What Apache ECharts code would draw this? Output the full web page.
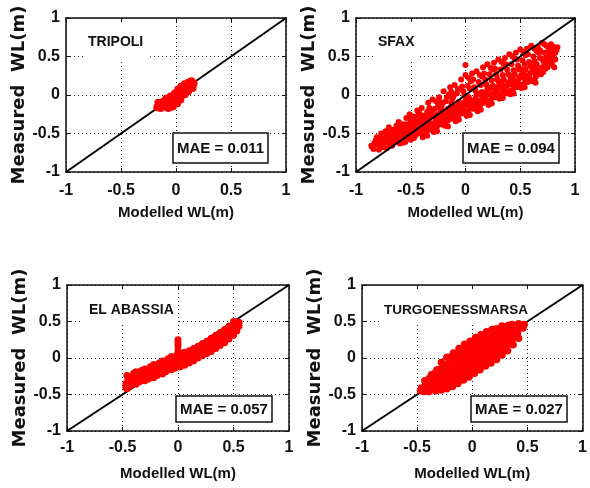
<!DOCTYPE html>
<html><head><meta charset="utf-8">
<script src="https://cdn.jsdelivr.net/npm/echarts@6/dist/echarts.min.js"></script>
<style>html,body{margin:0;padding:0;background:#fff}#c{width:590px;height:488px}</style>
</head><body><div id="c"></div>
<script>
// ---------------- data ----------------
const stations = ['TRIPOLI', 'SFAX', 'EL ABASSIA', 'TURGOENESSMARSA'];
const maeValues = ['0.011', '0.094', '0.057', '0.027'];
const tickLabels = ['-1', '-0.5', '0', '0.5', '1'];
const axisTitleX = 'Modelled WL(m)';
const axisTitleY = 'Measured  WL(m)';
const diagLine = [[-1, -1], [1, 1]];

const tripoliPts = [
  [-0.17,-0.16],[-0.15,-0.12],[-0.14,-0.17],[-0.12,-0.09],[-0.11,-0.15],[-0.09,-0.05],[-0.08,-0.12],[-0.07,-0.17],
  [-0.05,-0.02],[-0.04,-0.09],[-0.03,-0.15],[-0.01,0.02],[0.00,-0.05],[0.01,-0.11],[0.02,0.07],[0.03,0.00],
  [0.04,-0.06],[0.05,0.11],[0.06,0.04],[0.08,0.14],[0.08,0.01],[0.09,0.08],[0.11,0.16],[0.11,0.05],
  [0.13,0.12],[0.14,0.18],[0.15,0.09],[0.16,0.15],[-0.16,-0.10],[-0.10,-0.12],[-0.02,-0.03],[0.06,0.09]
];

const sfaxPts = [
  [-0.86,-0.66],[-0.84,-0.70],[-0.83,-0.62],[-0.85,-0.68],
  [-0.81,-0.55],[-0.79,-0.71],[-0.78,-0.60],[-0.80,-0.65],[-0.77,-0.50],[-0.76,-0.68],[-0.78,-0.56],
  [-0.74,-0.62],[-0.73,-0.47],[-0.72,-0.69],[-0.71,-0.55],[-0.70,-0.42],[-0.69,-0.64],[-0.68,-0.51],[-0.67,-0.58],[-0.66,-0.45],[-0.72,-0.53],
  [-0.64,-0.60],[-0.63,-0.40],[-0.62,-0.52],[-0.61,-0.35],[-0.60,-0.63],[-0.59,-0.46],[-0.58,-0.56],[-0.57,-0.38],[-0.56,-0.50],[-0.55,-0.61],[-0.62,-0.44],
  [-0.54,-0.30],[-0.53,-0.55],[-0.52,-0.42],[-0.51,-0.25],[-0.50,-0.58],[-0.49,-0.36],[-0.48,-0.48],[-0.47,-0.28],[-0.46,-0.53],[-0.45,-0.40],[-0.50,-0.33],[-0.53,-0.46],
  [-0.44,-0.20],[-0.43,-0.50],[-0.42,-0.33],[-0.41,-0.44],[-0.40,-0.17],[-0.39,-0.55],[-0.38,-0.27],[-0.37,-0.39],[-0.36,-0.48],[-0.35,-0.22],[-0.41,-0.29],[-0.38,-0.52],[-0.36,-0.34],
  [-0.34,-0.10],[-0.33,-0.45],[-0.32,-0.26],[-0.31,-0.37],[-0.30,-0.06],[-0.29,-0.48],[-0.28,-0.18],[-0.27,-0.31],[-0.26,-0.41],[-0.25,-0.12],[-0.31,-0.21],[-0.28,-0.44],[-0.26,-0.25],
  [-0.24,-0.03],[-0.23,-0.38],[-0.22,-0.15],[-0.21,-0.27],[-0.20,0.05],[-0.19,-0.40],[-0.18,-0.08],[-0.17,-0.22],[-0.16,-0.33],[-0.15,0.01],[-0.21,-0.11],[-0.18,-0.35],[-0.16,-0.18],[-0.23,-0.24],
  [-0.14,0.10],[-0.13,-0.31],[-0.12,-0.05],[-0.11,-0.18],[-0.10,0.13],[-0.09,-0.34],[-0.08,0.02],[-0.07,-0.12],[-0.06,-0.25],[-0.05,0.08],[-0.11,-0.02],[-0.08,-0.28],[-0.06,-0.09],[-0.13,-0.15],
  [-0.04,0.20],[-0.03,-0.24],[-0.02,0.05],[-0.01,-0.10],[0.00,0.26],[0.01,-0.27],[0.02,0.12],[0.03,-0.03],[0.04,-0.18],[0.05,0.18],[-0.01,0.00],[0.02,-0.21],[0.04,0.08],[-0.03,-0.14],[0.00,0.39],
  [0.06,0.28],[0.07,-0.18],[0.08,0.10],[0.09,-0.05],[0.10,0.31],[0.11,-0.21],[0.12,0.17],[0.13,0.02],[0.14,-0.12],[0.15,0.24],[0.09,0.06],[0.12,-0.15],[0.14,0.13],[0.07,-0.09],
  [0.16,0.36],[0.17,-0.10],[0.18,0.20],[0.19,0.04],[0.20,0.40],[0.21,-0.13],[0.22,0.27],[0.23,0.09],[0.24,-0.04],[0.25,0.33],[0.19,0.14],[0.22,-0.07],[0.24,0.19],[0.17,0.00],
  [0.26,0.42],[0.27,-0.03],[0.28,0.27],[0.29,0.10],[0.30,0.46],[0.31,-0.05],[0.32,0.33],[0.33,0.16],[0.34,0.03],[0.35,0.40],[0.29,0.21],[0.32,0.01],[0.34,0.26],[0.27,0.08],
  [0.36,0.48],[0.37,0.02],[0.38,0.33],[0.39,0.16],[0.40,0.53],[0.41,0.01],[0.42,0.40],[0.43,0.22],[0.44,0.09],[0.45,0.47],[0.39,0.27],[0.42,0.06],[0.44,0.32],[0.37,0.12],
  [0.46,0.55],[0.47,0.10],[0.48,0.38],[0.49,0.22],[0.50,0.59],[0.51,0.09],[0.52,0.45],[0.53,0.29],[0.54,0.16],[0.55,0.52],[0.49,0.33],[0.52,0.13],[0.54,0.40],
  [0.56,0.60],[0.57,0.17],[0.58,0.43],[0.59,0.28],[0.60,0.64],[0.61,0.18],[0.62,0.50],[0.63,0.35],[0.64,0.23],[0.65,0.57],[0.59,0.38],[0.63,0.44],
  [0.66,0.62],[0.67,0.27],[0.68,0.48],[0.69,0.35],[0.70,0.68],[0.71,0.30],[0.72,0.55],[0.73,0.41],[0.74,0.64],[0.68,0.58],
  [0.75,0.36],[0.76,0.60],[0.77,0.45],[0.78,0.66],[0.79,0.40],[0.80,0.53],[0.81,0.62],[0.78,0.50],
  [0.83,0.58],[0.84,0.62],[0.82,0.46],
  [-0.82,-0.59],[-0.76,-0.62],
  [-0.73,-0.58],[-0.70,-0.49],[-0.67,-0.66],[-0.65,-0.52],
  [-0.64,-0.48],[-0.61,-0.57],[-0.59,-0.40],[-0.56,-0.44],[-0.57,-0.62],
  [-0.54,-0.38],[-0.52,-0.50],[-0.49,-0.44],[-0.47,-0.56],[-0.46,-0.33],[-0.51,-0.29],
  [-0.44,-0.38],[-0.43,-0.26],[-0.40,-0.47],[-0.38,-0.32],[-0.36,-0.41],[-0.35,-0.53],[-0.42,-0.24],
  [-0.34,-0.32],[-0.33,-0.17],[-0.31,-0.42],[-0.29,-0.28],[-0.27,-0.08],[-0.26,-0.47],[-0.25,-0.35],
  [-0.24,-0.31],[-0.23,-0.09],[-0.21,-0.36],[-0.19,-0.21],[-0.17,-0.03],[-0.16,-0.41],[-0.15,-0.27],
  [-0.14,-0.24],[-0.13,0.04],[-0.11,-0.28],[-0.09,-0.15],[-0.07,0.07],[-0.06,-0.32],[-0.05,-0.20],
  [-0.04,-0.20],[-0.03,0.11],[-0.01,-0.22],[0.01,-0.05],[0.03,0.22],[0.04,-0.26],[0.05,-0.12],
  [0.06,-0.13],[0.07,0.20],[0.09,-0.16],[0.11,0.01],[0.13,0.26],[0.14,-0.19],[0.15,-0.05],
  [0.16,-0.05],[0.17,0.28],[0.19,-0.09],[0.21,0.08],[0.23,0.35],[0.24,-0.11],[0.25,0.02],
  [0.26,0.02],[0.27,0.34],[0.29,-0.01],[0.31,0.13],[0.33,0.43],[0.34,-0.04],[0.35,0.09],
  [0.36,0.08],[0.37,0.40],[0.39,0.05],[0.41,0.19],[0.43,0.50],[0.44,0.02],[0.45,0.15],
  [0.46,0.16],[0.47,0.46],[0.49,0.12],[0.51,0.26],[0.53,0.56],[0.54,0.10],[0.55,0.21],
  [0.56,0.24],[0.57,0.53],[0.59,0.20],[0.61,0.32],[0.63,0.60],[0.64,0.16],[0.65,0.29],
  [0.66,0.32],[0.67,0.55],[0.69,0.27],[0.71,0.44],[0.72,0.66],[0.73,0.34],[0.74,0.52],
  [0.76,0.42],[0.77,0.56],[0.79,0.64],[0.80,0.46],[0.81,0.36],[0.82,0.55],
  [-0.75,-0.57],[-0.71,-0.61],
  [-0.65,-0.55],[-0.63,-0.47],[-0.60,-0.54],
  [-0.55,-0.47],[-0.53,-0.39],[-0.51,-0.51],[-0.48,-0.41],
  [-0.45,-0.45],[-0.43,-0.35],[-0.41,-0.38],[-0.39,-0.44],
  [-0.35,-0.30],[-0.33,-0.38],[-0.30,-0.27],[-0.28,-0.36],
  [-0.25,-0.28],[-0.23,-0.18],[-0.20,-0.31],[-0.18,-0.26],
  [-0.15,-0.21],[-0.13,-0.10],[-0.10,-0.24],[-0.08,-0.19],
  [-0.05,-0.14],[-0.02,-0.17],[0.00,-0.07],[0.02,-0.13],
  [0.05,-0.07],[0.08,-0.11],[0.10,0.00],[0.12,-0.08],
  [0.15,0.04],[0.18,-0.02],[0.20,0.10],[0.22,0.01],
  [0.25,0.12],[0.28,0.05],[0.30,0.18],[0.32,0.09],
  [0.35,0.20],[0.38,0.12],[0.40,0.26],[0.42,0.14],
  [0.45,0.27],[0.48,0.19],[0.50,0.34],[0.52,0.23],
  [0.55,0.33],[0.58,0.26],[0.60,0.41],[0.62,0.30],
  [0.65,0.40],[0.68,0.33],[0.70,0.47],[0.72,0.39],
  [0.75,0.47],[0.78,0.43],[0.80,0.58]
];

const abassiaPts = [
  [-0.46,-0.42],[-0.47,-0.35],[-0.45,-0.29],[-0.46,-0.24],
  [-0.43,-0.38],[-0.41,-0.32],[-0.42,-0.26],[-0.40,-0.21],
  [-0.38,-0.36],[-0.39,-0.29],[-0.37,-0.24],[-0.38,-0.19],
  [-0.35,-0.33],[-0.33,-0.28],[-0.34,-0.22],[-0.33,-0.17],
  [-0.30,-0.31],[-0.31,-0.25],[-0.29,-0.20],[-0.30,-0.15],
  [-0.27,-0.29],[-0.25,-0.23],[-0.26,-0.17],[-0.25,-0.12],
  [-0.22,-0.27],[-0.23,-0.21],[-0.21,-0.15],[-0.22,-0.09],
  [-0.19,-0.24],[-0.17,-0.19],[-0.18,-0.12],[-0.17,-0.07],
  [-0.14,-0.22],[-0.15,-0.16],[-0.13,-0.10],[-0.14,-0.04],
  [-0.11,-0.19],[-0.09,-0.13],[-0.10,-0.07],[-0.09,-0.01],
  [-0.06,-0.16],[-0.07,-0.10],[-0.05,-0.04],[-0.06,0.02],
  [-0.03,-0.14],[-0.01,-0.08],[-0.02,-0.02],[-0.01,0.04],
  [0.02,-0.12],[0.01,-0.06],[0.03,0.00],[0.02,0.06],
  [0.06,-0.10],[0.07,-0.04],[0.05,0.02],[0.06,0.08],
  [0.10,-0.07],[0.09,-0.01],[0.11,0.05],[0.10,0.10],
  [0.14,-0.04],[0.15,0.02],[0.13,0.08],[0.14,0.13],
  [0.18,0.00],[0.17,0.06],[0.19,0.11],[0.18,0.16],
  [0.22,0.03],[0.23,0.09],[0.21,0.15],[0.22,0.20],
  [0.26,0.06],[0.25,0.12],[0.27,0.18],[0.26,0.23],
  [0.30,0.09],[0.31,0.15],[0.29,0.21],[0.30,0.27],
  [0.34,0.13],[0.33,0.19],[0.35,0.25],[0.34,0.31],
  [0.38,0.17],[0.39,0.23],[0.37,0.29],[0.38,0.35],
  [0.42,0.21],[0.41,0.27],[0.43,0.33],[0.42,0.39],
  [0.46,0.26],[0.47,0.32],[0.45,0.38],[0.46,0.44],
  [0.50,0.31],[0.49,0.38],[0.51,0.44],[0.50,0.50],
  [0.53,0.37],[0.54,0.43],[0.53,0.49],
  [0.55,0.44],[0.55,0.49],
  [0.00,0.25],[0.00,0.21],[0.00,0.17],[0.00,0.11],[-0.47,-0.40]
];

const turgoPts = [
  [-0.47,-0.45],[-0.46,-0.41],
  [-0.44,-0.46],[-0.43,-0.40],[-0.42,-0.34],[-0.43,-0.31],
  [-0.39,-0.46],[-0.37,-0.40],[-0.38,-0.34],[-0.39,-0.28],[-0.37,-0.23],
  [-0.33,-0.45],[-0.34,-0.39],[-0.32,-0.33],[-0.33,-0.27],[-0.34,-0.21],[-0.32,-0.16],
  [-0.28,-0.44],[-0.29,-0.38],[-0.27,-0.31],[-0.28,-0.25],[-0.29,-0.18],[-0.27,-0.12],[-0.28,-0.06],
  [-0.23,-0.42],[-0.24,-0.35],[-0.22,-0.29],[-0.23,-0.22],[-0.24,-0.15],[-0.22,-0.08],[-0.23,0.01],
  [-0.18,-0.39],[-0.19,-0.32],[-0.17,-0.25],[-0.18,-0.18],[-0.19,-0.11],[-0.17,-0.04],[-0.18,0.03],[-0.17,0.07],
  [-0.13,-0.35],[-0.14,-0.28],[-0.12,-0.21],[-0.13,-0.14],[-0.14,-0.07],[-0.12,0.00],[-0.13,0.07],[-0.12,0.13],
  [-0.08,-0.30],[-0.09,-0.23],[-0.07,-0.16],[-0.08,-0.09],[-0.09,-0.02],[-0.07,0.05],[-0.08,0.12],[-0.07,0.19],
  [-0.03,-0.26],[-0.04,-0.19],[-0.02,-0.12],[-0.03,-0.05],[-0.04,0.02],[-0.02,0.09],[-0.03,0.16],[-0.02,0.23],
  [0.02,-0.21],[0.01,-0.14],[0.03,-0.07],[0.02,0.00],[0.01,0.07],[0.03,0.14],[0.02,0.21],[0.03,0.28],
  [0.07,-0.16],[0.06,-0.09],[0.08,-0.02],[0.07,0.05],[0.06,0.12],[0.08,0.19],[0.07,0.26],[0.08,0.32],
  [0.12,-0.11],[0.11,-0.04],[0.13,0.03],[0.12,0.10],[0.11,0.17],[0.13,0.24],[0.12,0.30],[0.13,0.36],
  [0.17,-0.07],[0.16,0.00],[0.18,0.07],[0.17,0.14],[0.16,0.21],[0.18,0.28],[0.17,0.34],[0.18,0.39],
  [0.22,-0.02],[0.21,0.05],[0.23,0.12],[0.22,0.19],[0.21,0.26],[0.23,0.33],[0.22,0.40],
  [0.27,0.04],[0.26,0.11],[0.28,0.18],[0.27,0.25],[0.26,0.32],[0.28,0.38],[0.27,0.44],
  [0.32,0.10],[0.31,0.17],[0.33,0.24],[0.32,0.31],[0.31,0.38],[0.33,0.45],
  [0.37,0.18],[0.36,0.25],[0.38,0.32],[0.37,0.39],[0.36,0.46],
  [0.42,0.27],[0.41,0.34],[0.43,0.41],[0.42,0.47],
  [0.46,0.41],[0.47,0.46]
];

// ---------------- layout / style ----------------
const panelPoints = [tripoliPts, sfaxPts, abassiaPts, turgoPts];
const pointSize = [8, 6, 7, 7.5];
const lineOnTop = [false, true, false, false];
const SANS = "'Liberation Sans',Arial,sans-serif";
const WIDE = "'DejaVu Sans',sans-serif";
const INK = '#111';

const panels = [
  {grid:{left:66, top:18, width:220, height:154}, xLabelMargin:11, xNameGap:33, yNameGap:38,
   label:{left:83, top:22, padding:[13,7,10,5], size:14},
   mae:{left:173, top:133, padding:[8,4,7,4]}},
  {grid:{left:356, top:18, width:219, height:154}, xLabelMargin:11, xNameGap:33, yNameGap:38,
   label:{left:375, top:22, padding:[13,3,10,3], size:14},
   mae:{left:463, top:133, padding:[8,4,7,4]}},
  {grid:{left:67, top:285, width:222, height:146}, xLabelMargin:9, xNameGap:35, yNameGap:38,
   label:{left:80, top:289, padding:[14,4,8,9], size:14},
   mae:{left:176, top:396, padding:[6,4,5,4]}},
  {grid:{left:362, top:285, width:221, height:146}, xLabelMargin:9, xNameGap:35, yNameGap:38,
   label:{left:379, top:289, padding:[14,3,8,5], size:13.5},
   mae:{left:471, top:396, padding:[6,4,5,4]}}
];

const fmt = v => tickLabels[Math.round((v + 1) / 0.5)];
const tickFont = {fontFamily: SANS, fontWeight: 'bold', fontSize: 16, color: INK};

const grid = [], xAxis = [], yAxis = [], series = [], title = [];
panels.forEach((p, i) => {
  grid.push(Object.assign({containLabel: false}, p.grid));
  const base = {
    type: 'value', min: -1, max: 1, interval: 0.5, gridIndex: i,
    axisLine: {show: true, onZero: false, lineStyle: {color: INK, width: 1.5}},
    axisTick: {show: true, inside: true, length: 4, lineStyle: {color: INK, width: 1}}
  };
  xAxis.push(Object.assign({}, base, {
    position: 'bottom',
    axisLabel: Object.assign({formatter: fmt, margin: p.xLabelMargin}, tickFont),
    splitLine: {show: true, lineStyle: {color: '#222', width: 1, type: [1, 3]}},
    name: axisTitleX, nameLocation: 'middle', nameGap: p.xNameGap,
    nameTextStyle: {fontFamily: SANS, fontWeight: 'bold', fontSize: 15, color: INK}
  }));
  xAxis.push(Object.assign({}, base, {position: 'top', axisLabel: {show: false}, splitLine: {show: false}}));
  yAxis.push(Object.assign({}, base, {
    position: 'left',
    axisLabel: Object.assign({formatter: fmt, margin: 6}, tickFont),
    splitLine: {show: true, lineStyle: {color: '#222', width: 1, type: [1, 3]}},
    name: axisTitleY, nameLocation: 'middle', nameGap: p.yNameGap,
    nameTextStyle: {fontFamily: WIDE, fontWeight: 'bold', fontSize: 18, color: INK}
  }));
  yAxis.push(Object.assign({}, base, {position: 'right', axisLabel: {show: false}, splitLine: {show: false}}));

  series.push({
    type: 'line', xAxisIndex: 2 * i, yAxisIndex: 2 * i, data: diagLine,
    symbol: 'none', lineStyle: {color: '#000', width: 2}, z: lineOnTop[i] ? 4 : 1.5, silent: true
  });
  series.push({
    type: 'scatter', xAxisIndex: 2 * i, yAxisIndex: 2 * i, data: panelPoints[i],
    symbol: 'circle', symbolSize: pointSize[i], itemStyle: {color: '#ff0000', opacity: 1}, z: 2, silent: true
  });

  title.push({
    text: stations[i], left: p.label.left, top: p.label.top, padding: p.label.padding,
    backgroundColor: '#fff', z: 1,
    textStyle: {fontFamily: SANS, fontWeight: 'bold', fontSize: p.label.size, color: INK}
  });
  title.push({
    text: 'MAE = ' + maeValues[i], left: p.mae.left, top: p.mae.top, padding: p.mae.padding,
    backgroundColor: '#fff', borderColor: INK, borderWidth: 1.5, z: 6,
    textStyle: {fontFamily: SANS, fontWeight: 'bold', fontSize: 15, color: INK}
  });
});

const chart = echarts.init(document.getElementById('c'), null, {renderer: 'canvas'});
chart.setOption({animation: false, backgroundColor: '#fff', title, grid, xAxis, yAxis, series});
</script>
</body></html>
